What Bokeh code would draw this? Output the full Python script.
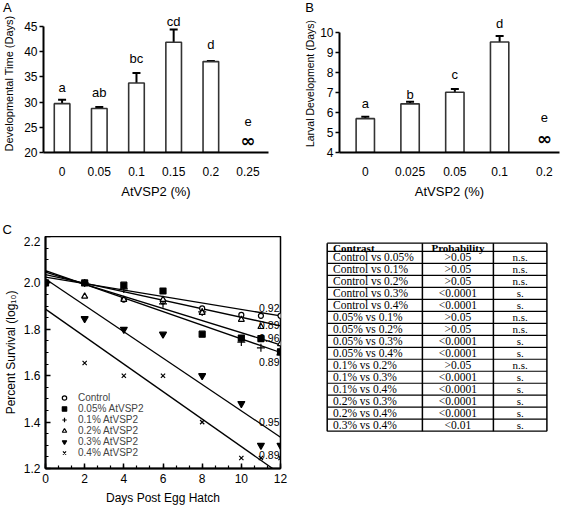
import numpy as np
from bokeh.plotting import figure
from bokeh.layouts import column, row
from bokeh.models import (Range1d, FixedTicker, Whisker, TeeHead, ColumnDataSource,
                          Legend, LegendItem)
from bokeh.core.properties import value
from bokeh.embed import file_html
from bokeh.resources import INLINE

# ---------------- data ----------------
# Panel A: total developmental time
a_doses = ["0", "0.05", "0.1", "0.15", "0.2", "0.25"]
a_mean = [29.7, 28.75, 33.8, 41.9, 38.05, None]
a_err = [0.75, 0.3, 2.0, 2.5, 0.1, None]
a_letters = ["a", "ab", "bc", "cd", "d", "e"]
a_letter_y = [33.0, 32.0, 38.7, 46.1, 41.5, 26.2]

# Panel B: larval development
b_doses = ["0", "0.025", "0.05", "0.1", "0.2"]
b_mean = [5.69, 6.43, 7.01, 9.52, None]
b_err = [0.09, 0.11, 0.16, 0.30, None]
b_letters = ["a", "b", "c", "d", "e"]
b_letter_y = [6.46, 6.9, 7.9, 10.43, 5.74]

# Panel C: survival (log10 percent)
days = [0, 2, 4, 6, 8, 10, 11, 12]
surv_control = [2.0, 2.0, 1.928, 1.92, 1.89, 1.862, 1.858, 1.858]
surv_005 = [2.0, 2.0, 1.99, 1.965, 1.779, 1.762, 1.76, 1.703]
surv_01 = [2.0, 2.0, 1.974, 1.91, 1.875, 1.745, 1.72, 1.69]
surv_02 = [2.0, 1.942, 1.928, 1.928, 1.872, 1.842, 1.811, 1.737]
surv_03 = [2.0, 1.846, 1.80, 1.779, 1.60, 1.48, 1.30, 1.30]
surv_04 = [2.0, 1.655, 1.60, 1.60, 1.40, 1.245, 1.245, 1.245]
series_names = ["Control", "0.05% AtVSP2", "0.1% AtVSP2", "0.2% AtVSP2",
                "0.3% AtVSP2", "0.4% AtVSP2"]
fit_days = [0, 12]
fit_at_start = [2.025, 2.046, 2.053, 2.036, 2.017, 1.887]
fit_at_end = [1.858, 1.733, 1.70, 1.815, 1.335, 1.176]
fit_r = ["0.92", "0.96", "0.89", "0.89", "0.95", "0.89"]
fit_r_y = [1.89, 1.761, 1.661, 1.82, 1.40, 1.258]

# Table
contrasts = ["Control vs 0.05%", "Control vs 0.1%", "Control vs 0.2%", "Control vs 0.3%",
             "Control vs 0.4%", "0.05% vs 0.1%", "0.05% vs 0.2%", "0.05% vs 0.3%",
             "0.05% vs 0.4%", "0.1% vs 0.2%", "0.1% vs 0.3%", "0.1%  vs 0.4%",
             "0.2% vs 0.3%", "0.2% vs 0.4%", "0.3% vs 0.4%"]
probability = [">0.05", ">0.05", ">0.05", "<0.0001", "<0.0001", ">0.05", ">0.05",
               "<0.0001", "<0.0001", ">0.05", "<0.0001", "<0.0001", "<0.0001",
               "<0.0001", "<0.01"]
significance = ["n.s.", "n.s.", "n.s.", "s.", "s.", "n.s.", "n.s.", "s.", "s.", "n.s.",
                "s.", "s.", "s.", "s.", "s."]
table_header = ["Contrast", "Probability", ""]
panel_letters = ["A", "B", "C"]

SANS = "Liberation Sans"
SERIF = "Liberation Serif"


def base_fig(w, h, xr, yr, ml, mr, mt, mb):
    p = figure(width=w, height=h, x_range=xr, y_range=yr, output_backend="svg",
               toolbar_location=None, min_border_left=ml, min_border_right=mr,
               min_border_top=mt, min_border_bottom=mb)
    p.grid.visible = False
    p.outline_line_color = None
    p.background_fill_color = "white"
    p.border_fill_color = "white"
    for ax in p.axis:
        ax.axis_line_width = 2
        ax.axis_line_color = "black"
        ax.major_tick_line_width = 1.5
        ax.major_tick_line_color = "black"
        ax.major_label_text_font = SANS
        ax.major_label_text_font_size = "12px"
        ax.major_label_text_color = "black"
        ax.axis_label_text_font = SANS
        ax.axis_label_text_font_style = "normal"
        ax.axis_label_text_color = "black"
        ax.axis_label_text_font_size = "12px"
        ax.minor_tick_line_color = None
    return p


def strip(w, h):
    """A pixel-coordinate canvas (y downward) for panel letters and the table."""
    s = figure(width=w, height=h, x_range=Range1d(0, w), y_range=Range1d(h, 0),
               output_backend="svg", toolbar_location=None, min_border=0,
               x_axis_location=None, y_axis_location=None)
    s.grid.visible = False
    s.outline_line_color = None
    return s


def bar_panel(p, doses, mean, err, letters, letter_y, ymin, ytop, yticks, width, inf_y):
    xs = list(range(len(doses)))
    top = [np.nan if v is None else v for v in mean]
    up = [np.nan if (v is None or e is None) else v + e for v, e in zip(mean, err)]
    src = ColumnDataSource(dict(x=xs, top=top, upper=up))
    p.vbar(x="x", top="top", bottom=ymin, width=width, fill_color="white",
           line_color="#333333", line_width=1.6, source=src)
    p.add_layout(Whisker(base="x", lower="top", upper="upper", source=src,
                         dimension="height", lower_head=None,
                         upper_head=TeeHead(size=8, line_width=2, line_color="black"),
                         line_width=2, line_color="black"))
    p.text(x=xs, y=letter_y, text=letters, text_font=value(SANS), text_font_size="13px",
           text_align="center", text_baseline="middle", text_color="black")
    inf_x = [x for x, v in zip(xs, mean) if v is None]
    p.text(x=inf_x, y=[inf_y] * len(inf_x), text=["∞"] * len(inf_x),
           text_font=value("DejaVu Sans"), text_font_size="18px", text_font_style="bold",
           text_align="center", text_baseline="middle", text_color="black")
    p.xaxis.ticker = FixedTicker(ticks=xs)
    p.xaxis.major_label_overrides = {x: d for x, d in zip(xs, doses)}
    p.xaxis.major_tick_line_color = None
    p.xaxis.major_label_standoff = 8
    p.xaxis.axis_label = "AtVSP2 (%)"
    p.xaxis.axis_label_text_font_size = "13px"
    p.xaxis.axis_label_standoff = 5
    p.yaxis.ticker = FixedTicker(ticks=yticks)
    p.yaxis.bounds = (ymin, ytop)
    p.yaxis.major_tick_out = 4
    p.yaxis.major_tick_in = 0
    p.yaxis.major_label_standoff = 2


W = 560
S1 = 14          # strip with letters A and B
H1 = 208         # bar chart row
S2 = 14          # strip with letter C
H2 = 271         # survival chart + table row

# ---------------- letter strips ----------------
strip1 = strip(W, S1)
strip1.text(x=[6.8, 309.2], y=[7, 7], text=panel_letters[:2], text_font=value(SANS),
            text_font_size="13px", text_align="center", text_baseline="middle",
            text_color="black")
strip2 = strip(W, S2)
strip2.text(x=[6.8], y=[7], text=panel_letters[2:], text_font=value(SANS),
            text_font_size="13px", text_align="center", text_baseline="middle",
            text_color="black")

# ---------------- Panel A ----------------
pA = base_fig(282, H1, Range1d(-0.5, 5.55), Range1d(20, 47.4), 43, 14, 0, 70)
bar_panel(pA, a_doses, a_mean, a_err, a_letters, a_letter_y, 20, 45,
          [20, 25, 30, 35, 40, 45], 0.42, 22.3)
pA.yaxis.axis_label = "Developmental Time (Days)"
pA.yaxis.axis_label_text_font_size = "11px"
pA.yaxis.axis_label_standoff = 6

# ---------------- Panel B ----------------
pB = base_fig(278, H1, Range1d(-0.576, 4.337), Range1d(4, 10.89), 57, 1, 0, 69)
bar_panel(pB, b_doses, b_mean, b_err, b_letters, b_letter_y, 4, 10,
          [4, 5, 6, 7, 8, 9, 10], 0.41, 4.72)
pB.yaxis.axis_label = "Larval Development (Days)"
pB.yaxis.axis_label_text_font_size = "10.5px"
pB.yaxis.axis_label_standoff = 1

# ---------------- Panel C ----------------
pC = base_fig(305, H2, Range1d(0, 12), Range1d(1.2, 2.2), 43, 25, 0, 38)
pC.outline_line_color = "black"
pC.outline_line_width = 1.5
for ax in pC.axis:
    ax.major_tick_in = 5
    ax.major_tick_out = 0
    ax.minor_tick_in = 3
    ax.minor_tick_out = 0
    ax.minor_tick_line_color = "black"
    ax.minor_tick_line_width = 1.2
    ax.major_label_standoff = 5
pC.xaxis.ticker = FixedTicker(ticks=[0, 2, 4, 6, 8, 10, 12],
                              minor_ticks=[i * 2 / 3 for i in range(19)])
pC.yaxis.ticker = FixedTicker(ticks=[1.2, 1.4, 1.6, 1.8, 2.0, 2.2],
                              minor_ticks=[1.2 + i * 0.05 for i in range(21)])
pC.yaxis.major_label_overrides = {1.2: "1.2", 1.4: "1.4", 1.6: "1.6", 1.8: "1.8",
                                  2.0: "2.0", 2.2: "2.2"}
pC.xaxis.axis_label = "Days Post Egg Hatch"
pC.xaxis.axis_label_standoff = 5
pC.yaxis.axis_label = "Percent Survival (log\u2081\u2080)"
pC.yaxis.axis_label_standoff = 3

pC.segment(x0=[fit_days[0]] * 6, y0=fit_at_start, x1=[fit_days[1]] * 6, y1=fit_at_end,
           line_color="black", line_width=1.3)

series = [surv_control, surv_005, surv_01, surv_02, surv_03, surv_04]
markers = [("circle", 5, "white"), ("square", 6, "black"), ("cross", 8, "black"),
           ("triangle", 6, "white"), ("inverted_triangle", 7, "black"), ("x", 6, "black")]
items = []
for name, vals, (mk, sz, fc) in zip(series_names, series, markers):
    sc = pC.scatter(days, vals, marker=mk, size=sz, fill_color=fc, line_color="black",
                    line_width=1.2)
    ln = pC.line([], [], line_color="black", line_width=1.3)
    items.append(LegendItem(label=name, renderers=[ln, sc]))

pC.text(x=[11.95] * len(fit_r), y=fit_r_y, text=fit_r, text_font=value(SANS),
        text_font_size="10.5px", text_align="right", text_baseline="middle",
        text_color="black")

leg = Legend(items=items, location=(8, 10), glyph_width=22, glyph_height=11,
             label_height=11, spacing=0, padding=0, margin=0, label_standoff=3,
             label_text_font=SANS, label_text_font_size="10px",
             border_line_color=None, background_fill_alpha=0)
pC.add_layout(leg)

# ---------------- Table ----------------
pT = strip(W - 305, H2)
T_LEFT, T_C1, T_C2, T_RIGHT = 21.7, 116.9, 187.9, 241.4
T_TOP, T_HEAD = 7.8, 17.4
ROW_H = 14.0
n = len(contrasts)
row_edges = [T_HEAD + ROW_H * k for k in range(n + 1)]
T_BOT = row_edges[-1]
hy = [T_TOP] + row_edges
pT.segment(x0=[T_LEFT] * len(hy), y0=hy, x1=[T_RIGHT] * len(hy), y1=hy,
           line_color="black", line_width=1.2)
vx = [T_LEFT, T_C1, T_C2, T_RIGHT]
pT.segment(x0=vx, y0=[T_TOP] * 4, x1=vx, y1=[T_BOT] * 4, line_color="black",
           line_width=1.5)
centers = [(row_edges[k] + row_edges[k + 1]) / 2 for k in range(n)]
head_y = (T_TOP + T_HEAD) / 2 + 0.5
pT.text(x=[27.5, (T_C1 + T_C2) / 2], y=[head_y] * 2, text=table_header[:2],
        text_font=value(SERIF), text_font_size="11px", text_font_style="bold",
        text_align=["left", "center"], text_baseline="middle", text_color="black")
pT.text(x=[27.5] * n, y=centers, text=contrasts, text_font=value(SERIF),
        text_font_size="11.5px", text_align="left", text_baseline="middle",
        text_color="black")
pT.text(x=[(T_C1 + T_C2) / 2] * n, y=centers, text=probability, text_font=value(SERIF),
        text_font_size="11.5px", text_align="center", text_baseline="middle",
        text_color="black")
pT.text(x=[(T_C2 + T_RIGHT) / 2] * n, y=centers, text=significance,
        text_font=value(SERIF), text_font_size="11px", text_align="center",
        text_baseline="middle", text_color="black")

layout = column(strip1, row(pA, pB), strip2, row(pC, pT))
open("out.html", "w").write(file_html(layout, INLINE))
